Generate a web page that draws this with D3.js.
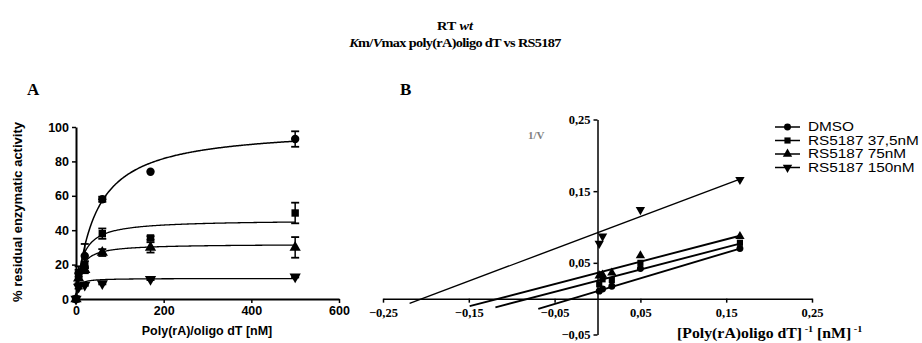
<!DOCTYPE html>
<html>
<head>
<meta charset="utf-8">
<script src="https://cdn.jsdelivr.net/npm/d3@7"></script>
<style>
  body { margin: 0; background: #fff; }
  svg { display: block; }
  .sans { font-family: Arial, "Liberation Sans", sans-serif; }
  .serif { font-family: "Times New Roman", "Liberation Serif", serif; }
</style>
</head>
<body>
<svg id="chart"></svg>
<script>
// ---- data ----
let seriesNames = ["DMSO", "RS5187 37,5nM", "RS5187 75nM", "RS5187 150nM"];

// panel A: activity vs substrate
let concA = [0, 6, 20, 60, 170, 500];
let dmsoA = [0, 15, 25, 58, 74, 93];
let rs37A = [0, 14, 20, 38, 35.5, 50];
let rs75A = [0, 12, 17, 27, 30, 30];
let rs150A = [0, 7, 8.2, 9, 11.5, 13];
let dmsoErr = [0, 2, 7, 1.5, 0, 4.5];
let rs37Err = [0, 5, 2, 3, 1, 6];
let rs75Err = [0, 3, 2, 2, 3, 6];
let rs150Err = [0, 1, 0.5, 0.5, 0.5, 0.5];
// fitted Michaelis-Menten curves
let vmaxA = [100, 46, 32, 12];
let kmA = [45, 14, 10, 4];
let xTicksA = [0, 200, 400, 600];
let yTicksA = [0, 20, 40, 60, 80, 100];

// panel B: double reciprocal
let invConc = [0.002, 0.0059, 0.0167, 0.05, 0.166];
let dmsoB = [0.0105, 0.0135, 0.0172, 0.042, 0.070];
let rs37B = [0.020, 0.027, 0.026, 0.050, 0.078];
let rs75B = [0.032, 0.033, 0.036, 0.060, 0.087];
let rs150B = [0.077, 0.087, null, 0.124, 0.166];
// regression lines: intercept, slope, first x
let interceptB = [0.0105, 0.025, 0.036, 0.092];
let slopeB = [0.358, 0.312, 0.312, 0.45];
let lineFromB = [-0.069, -0.119, -0.149, -0.219];
let lineToB = 0.166;
let xTicksB = [-0.25, -0.15, -0.05, 0.05, 0.15, 0.25];
let yTicksB = [-0.05, 0.05, 0.15, 0.25];

let dataA = [dmsoA, rs37A, rs75A, rs150A];
let errA = [dmsoErr, rs37Err, rs75Err, rs150Err];
let dataB = [dmsoB, rs37B, rs75B, rs150B];

let width = 922, height = 343;
let svg = d3.select("#chart").attr("width", width).attr("height", height);
svg.append("rect").attr("width", width).attr("height", height).attr("fill", "#fff");

let symbolFor = function (i, size) {
    let types = [d3.symbolCircle, d3.symbolSquare, d3.symbolTriangle, d3.symbolTriangle];
    return d3.symbol().type(types[i]).size(size)();
};
let rotFor = function (i) { return i == 3 ? " rotate(180)" : ""; };
let comma = function (v) { return d3.format(".2f")(v).replace(".", ","); };

// ---- titles (the source picture is a little stretched sideways) ----
let title = svg.append("text").attr("class", "serif")
    .attr("transform", "translate(455,30) scale(1.1,1)")
    .attr("text-anchor", "middle").attr("font-size", 13).attr("font-weight", "bold");
title.append("tspan").text("RT ");
title.append("tspan").attr("font-style", "italic").text("wt");
let title2 = svg.append("text").attr("class", "serif")
    .attr("transform", "translate(455,47) scale(1.1,1)")
    .attr("text-anchor", "middle").attr("font-size", 13).attr("font-weight", "bold")
    .attr("letter-spacing", -0.6);
title2.append("tspan").attr("font-style", "italic").text("K");
title2.append("tspan").text("m/");
title2.append("tspan").attr("font-style", "italic").text("V");
title2.append("tspan").text("max  poly(rA)oligo dT vs RS5187");

svg.append("text").attr("class", "serif").attr("x", 27).attr("y", 95)
    .attr("font-size", 17).attr("font-weight", "bold").text("A");
svg.append("text").attr("class", "serif").attr("x", 400).attr("y", 95)
    .attr("font-size", 17).attr("font-weight", "bold").text("B");

// ---- panel A ----
let xA = d3.scaleLinear().domain([0, 600]).range([76, 339]);
let yA = d3.scaleLinear().domain([0, 100]).range([299, 127]);
let gA = svg.append("g");

let axA = gA.append("g").attr("transform", "translate(0," + yA(0) + ")")
    .call(d3.axisBottom(xA).tickValues(xTicksA).tickSize(4).tickSizeOuter(0).tickPadding(3));
let ayA = gA.append("g").attr("transform", "translate(" + xA(0) + ",0)")
    .call(d3.axisLeft(yA).tickValues(yTicksA).tickSize(4).tickSizeOuter(0).tickPadding(3));
[axA, ayA].forEach(function (ax) {
    ax.select(".domain").attr("stroke-width", 2);
    ax.selectAll(".tick line").attr("stroke-width", 1.5);
    ax.selectAll("text").attr("class", "sans").attr("font-size", 12.5)
        .attr("font-weight", "bold").attr("fill", "#000");
});

gA.append("text").attr("class", "sans").attr("font-size", 12.5).attr("font-weight", "bold")
    .attr("text-anchor", "middle").attr("x", 207).attr("y", 335).text("Poly(rA)/oligo dT [nM]");
gA.append("text").attr("class", "sans").attr("font-size", 13).attr("font-weight", "bold")
    .attr("text-anchor", "middle").attr("transform", "translate(22,212) rotate(-90)")
    .text("% residual enzymatic activity");

let curveX = d3.range(0, 501, 2);
vmaxA.forEach(function (vm, i) {
    let pts = curveX.map(function (s) { return [s, vm * s / (kmA[i] + s)]; });
    gA.append("path").datum(pts)
        .attr("d", d3.line().x(function (d) { return xA(d[0]); }).y(function (d) { return yA(d[1]); }))
        .attr("fill", "none").attr("stroke", "#000").attr("stroke-width", i == 0 ? 1.5 : 1.3);
});

dataA.forEach(function (vals, i) {
    let g = gA.append("g");
    vals.forEach(function (v, j) {
        let e = errA[i][j];
        let cx = xA(concA[j]);
        if (e > 0) {
            g.append("line").attr("x1", cx).attr("x2", cx).attr("y1", yA(v - e)).attr("y2", yA(v + e))
                .attr("stroke", "#000").attr("stroke-width", 1.5);
            [v - e, v + e].forEach(function (w) {
                g.append("line").attr("x1", cx - 4).attr("x2", cx + 4).attr("y1", yA(w)).attr("y2", yA(w))
                    .attr("stroke", "#000").attr("stroke-width", 1.8);
            });
        }
        g.append("path").attr("d", symbolFor(i, 55))
            .attr("transform", "translate(" + cx + "," + yA(v) + ")" + rotFor(i))
            .attr("fill", "#000");
    });
});

// ---- panel B ----
let xB = d3.scaleLinear().domain([-0.25, 0.25]).range([383, 812]);
let yB = d3.scaleLinear().domain([-0.05, 0.25]).range([334.5, 119.5]);
let gB = svg.append("g");

let axB = gB.append("g").attr("transform", "translate(0," + yB(0) + ")")
    .call(d3.axisBottom(xB).tickValues(xTicksB).tickFormat(comma).tickSize(4).tickSizeOuter(0).tickPadding(5));
let ayB = gB.append("g").attr("transform", "translate(" + xB(0) + ",0)")
    .call(d3.axisLeft(yB).tickValues(yTicksB).tickFormat(comma).tickSize(4).tickSizeOuter(0).tickPadding(3));
[axB, ayB].forEach(function (ax) {
    ax.select(".domain").attr("stroke-width", 1.5);
    ax.selectAll(".tick line").attr("stroke-width", 1.5);
    ax.selectAll("text").attr("class", "serif").attr("font-size", 12.5)
        .attr("font-weight", "bold").attr("fill", "#000");
});

gB.append("text").attr("class", "serif").attr("font-size", 11).attr("font-weight", "bold")
    .attr("fill", "#7f7f7f").attr("x", 528).attr("y", 139).text("1/V");

let xlab = gB.append("text").attr("class", "serif").attr("font-size", 14).attr("font-weight", "bold")
    .attr("transform", "translate(677,338) scale(1.13,1)");
xlab.append("tspan").text("[Poly(rA)oligo dT]");
xlab.append("tspan").attr("font-size", 9).attr("dy", -6).text(" -1");
xlab.append("tspan").attr("dy", 6).text("  [nM]");
xlab.append("tspan").attr("font-size", 9).attr("dy", -6).text(" -1");

interceptB.forEach(function (b, i) {
    gB.append("line")
        .attr("x1", xB(lineFromB[i])).attr("y1", yB(b + slopeB[i] * lineFromB[i]))
        .attr("x2", xB(lineToB)).attr("y2", yB(b + slopeB[i] * lineToB))
        .attr("stroke", "#000").attr("stroke-width", i == 3 ? 1.4 : 1.9);
});

dataB.forEach(function (vals, i) {
    vals.forEach(function (v, j) {
        if (v == null) return;
        gB.append("path").attr("d", symbolFor(i, 38))
            .attr("transform", "translate(" + xB(invConc[j]) + "," + yB(v) + ")" + rotFor(i))
            .attr("fill", "#000");
    });
});

// ---- legend ----
let leg = svg.append("g");
seriesNames.forEach(function (name, i) {
    let y = 127 + i * 13.5;
    leg.append("line").attr("x1", 775).attr("x2", 800).attr("y1", y).attr("y2", y)
        .attr("stroke", "#000").attr("stroke-width", 1.5);
    leg.append("path").attr("d", symbolFor(i, 38))
        .attr("transform", "translate(787.5," + y + ")" + rotFor(i)).attr("fill", "#000");
    leg.append("text").attr("class", "sans").attr("font-size", 12)
        .attr("transform", "translate(808," + (y + 4.3) + ") scale(1.28,1)")
        .text(name);
});
</script>
</body>
</html>
